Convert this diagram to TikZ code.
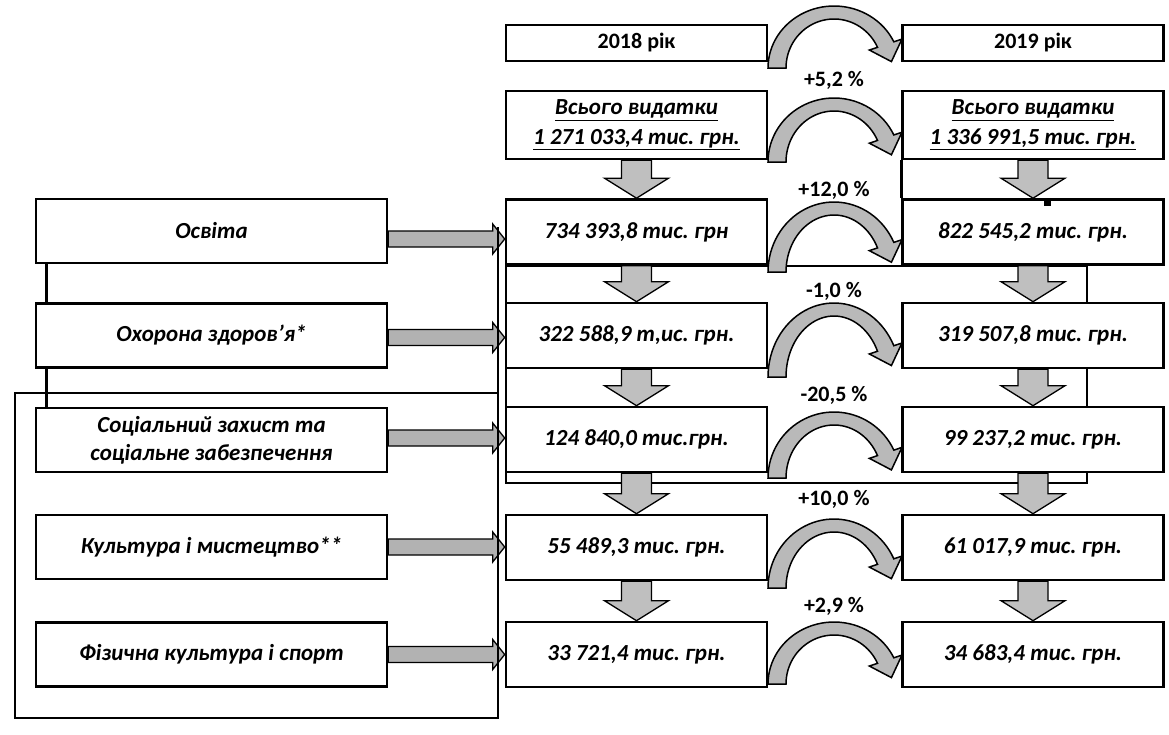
\documentclass[tikz,border=0pt]{standalone}
\usepackage{fontspec}
\setmainfont{Carlito}
\usetikzlibrary{calc}
\frenchspacing
\pgfdeclarelayer{bg}
\pgfsetlayers{bg,main}
\tikzset{
  box/.style={draw, line width=2.6pt, fill=white, inner sep=0pt, align=center,
    font=\fontsize{23}{28}\selectfont\bfseries\itshape},
  lbox/.style={box, minimum width=351pt, minimum height=64pt},
  vbox/.style={box, minimum width=261pt, minimum height=65pt},
  ybox/.style={box, minimum width=261pt, minimum height=36pt, font=\fontsize{22}{26}\selectfont\bfseries},
  tbox/.style={box, minimum width=261pt, minimum height=68pt},
  pct/.style={font=\fontsize{22}{26}\selectfont\bfseries, inner sep=1pt},
  conn/.style={draw=black, line width=2.6pt},
  curv/.style={fill=gray!55, draw=black, line width=1.5pt},
  fatv/.style={fill=gray!50, draw=black, line width=1.3pt},
  fath/.style={fill=gray!60, draw=black, line width=1.3pt},
}
\newcommand{\curvarr}[3]{%
  \pgfmathsetmacro\cry{#2-#3}%
  \pgfmathsetmacro\cri{\cry-13}%
  \coordinate (cO) at ({#1+66*cos(25)},{#2-\cry*sin(25)});
  \coordinate (cI) at ({#1+48*cos(25)},{#2-\cri*sin(25)});
  \coordinate (cM) at ($(cO)!0.5!(cI)$);
  \coordinate (cOB) at ($(cO)!-0.5!(cI)$);
  \coordinate (cIB) at ($(cI)!-0.5!(cO)$);
  \coordinate (cT) at ($(cM)!18pt!-90:(cO)$);
  \filldraw[curv] plot[domain=180:25,samples=40] ({#1+66*cos(\x)},{#2-\cry*sin(\x)})
    -- (cOB) -- (cT) -- (cIB)
    -- plot[domain=25:180,samples=40] ({#1+48*cos(\x)},{#2-\cri*sin(\x)}) -- cycle;
}
\newcommand{\fatdown}[3]{% x-node anchor, top anchor, bottom anchor
  \path let \p1=(#1), \p2=(#2), \p3=(#3) in
    [fatv] (\x1-15pt,\y2) -- (\x1-15pt,\y3+20pt) -- (\x1-32pt,\y3+20pt) -- (\x1,\y3)
    -- (\x1+32pt,\y3+20pt) -- (\x1+15pt,\y3+20pt) -- (\x1+15pt,\y2) -- cycle;
}
\newcommand{\fatright}[3]{% from, to, y shift
  \path let \p1=(#1), \p2=(#2) in
    [fath] (\x1,\y1+8pt-#3) -- (\x2-12pt,\y1+8pt-#3) -- (\x2-12pt,\y1+15pt-#3) -- (\x2,\y1-#3)
    -- (\x2-12pt,\y1-15pt-#3) -- (\x2-12pt,\y1-8pt-#3) -- (\x1,\y1-8pt-#3) -- cycle;
}
\begin{document}
\begin{tikzpicture}[x=1pt,y=-1pt]
\useasboundingbox (0,0) rectangle (1169,734);

% frame line corners
\coordinate (fTop) at (498,227);
\coordinate (fTR) at (498,393);
\coordinate (fBR) at (498,718);
\coordinate (fBL) at (15,718);
\coordinate (fTL) at (15,393);
\coordinate (g1) at (506,266);
\coordinate (g2) at (1087,266);
\coordinate (g3) at (1087,483);
\coordinate (g4) at (506,483);

% left boxes
\node[lbox] (l1) at (211.5,231) {Освіта};
\node[lbox] (l2) at (211.5,335.5) {Охорона здоров'я*};
\node[lbox] (l3) at (211.5,440) {Соціальний захист та\\соціальне забезпечення};
\node[lbox] (l4) at (211.5,547) {Культура і мистецтво**};
\node[lbox] (l5) at (211.5,654.5) {Фізична культура і спорт};

% 2018 / 2019 column boxes
\node[ybox] (y18) at (636.5,43) {2018 рік};
\node[ybox] (y19) at (1033,43) {2019 рік};
\node[tbox] (t18) at (636.5,125) {\underline{Всього видатки}\\[2pt]\underline{1 271 033,4 тис. грн.}};
\node[tbox] (t19) at (1033,125) {\underline{Всього видатки}\\[2pt]\underline{1 336 991,5 тис. грн.}};

\node[vbox] (a1) at (636.5,232) {734 393,8 тис. грн};
\node[vbox] (a2) at (636.5,335.5) {322 588,9 т,ис. грн.};
\node[vbox] (a3) at (636.5,439.5) {124 840,0 тис.грн.};
\node[vbox] (a4) at (636.5,547.5) {55 489,3 тис. грн.};
\node[vbox] (a5) at (636.5,654.5) {33 721,4 тис. грн.};

\node[vbox] (b1) at (1033,232) {822 545,2 тис. грн.};
\node[vbox] (b2) at (1033,335.5) {319 507,8 тис. грн.};
\node[vbox] (b3) at (1033,439.5) {99 237,2 тис. грн.};
\node[vbox] (b4) at (1033,547.5) {61 017,9 тис. грн.};
\node[vbox] (b5) at (1033,654.5) {34 683,4 тис. грн.};

\begin{pgfonlayer}{bg}
\fill[white] (0,0) rectangle (1169,734);
% horizontal arrows from left boxes
\fatright{l1.east}{a1.west}{8pt}
\fatright{l2.east}{a2.west}{2pt}
\fatright{l3.east}{a3.west}{-2pt}
\fatright{l4.east}{a4.west}{0pt}
\fatright{l5.east}{a5.west}{0pt}
% connector lines
\draw[conn] ([xshift=12pt]l1.south west) -- ([xshift=12pt]l3.north west);
\draw[conn] (fTop) -- (fBR) -- (fBL) -- (fTL) -- (fTR);
\draw[conn] (g1) -- (g2) -- (g3) -- (g4) -- cycle;
\draw[conn] (t19.south west) -- (b1.north west);
\end{pgfonlayer}

\node[fill=black, minimum size=7pt, inner sep=0pt] (sq) at (1047,202) {};

% vertical fat arrows
\fatdown{t18.south}{t18.south}{a1.north}
\fatdown{a1.south}{a1.south}{a2.north}
\fatdown{a2.south}{a2.south}{a3.north}
\fatdown{a3.south}{a3.south}{a4.north}
\fatdown{a4.south}{a4.south}{a5.north}
\fatdown{t19.south}{t19.south}{b1.north}
\fatdown{b1.south}{b1.south}{b2.north}
\fatdown{b2.south}{b2.south}{b3.north}
\fatdown{b3.south}{b3.south}{b4.north}
\fatdown{b4.south}{b4.south}{b5.north}

% curved arrows
\curvarr{834}{68}{6}
\curvarr{834}{162}{98}
\curvarr{834}{272}{202}
\curvarr{834}{377}{303}
\curvarr{834}{478}{412}
\curvarr{834}{588}{519}
\curvarr{834}{684}{622}

% percentages
\node[pct] (p0) at (834,80) {+5,2 \%};
\node[pct] (p1) at (834,190) {+12,0 \%};
\node[pct] (p2) at (834,291) {-1,0 \%};
\node[pct] (p3) at (834,395) {-20,5 \%};
\node[pct] (p4) at (834,499) {+10,0 \%};
\node[pct] (p5) at (834,606) {+2,9 \%};
\end{tikzpicture}
\end{document}
